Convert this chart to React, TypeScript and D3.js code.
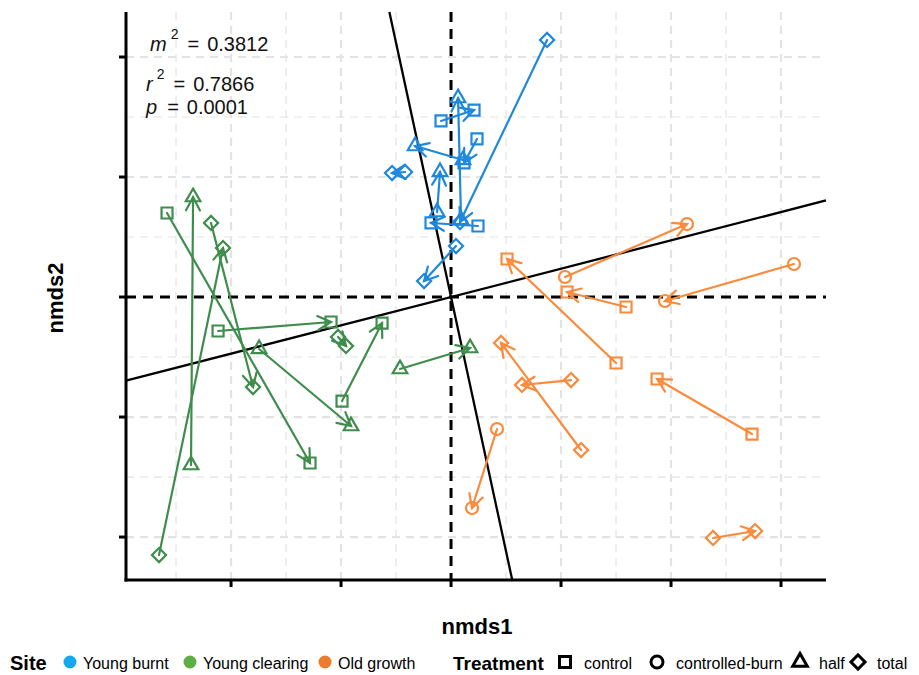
import React, { useEffect, useRef } from 'react';
import * as d3 from 'd3';

// procrustes pairs: from = first ordination, to = rotated/target
type Pair = { treatment: string; from: [number, number]; to: [number, number] };

const youngBurnt: Pair[] = [
  { treatment: 'total', from: [0.0873, 0.2142], to: [0.0082, 0.0625] },
  { treatment: 'total', from: [0.0045, 0.0425], to: [-0.0245, 0.0133] },
  { treatment: 'total', from: [-0.0418, 0.1042], to: [-0.0536, 0.1033] },
  { treatment: 'half', from: [0.0091, 0.0642], to: [0.0064, 0.1658] },
  { treatment: 'half', from: [0.0109, 0.1142], to: [-0.0327, 0.1258] },
  { treatment: 'half', from: [-0.0127, 0.0708], to: [-0.01, 0.1042] },
  { treatment: 'control', from: [-0.0091, 0.1467], to: [0.0209, 0.1558] },
  { treatment: 'control', from: [0.0236, 0.1317], to: [0.0118, 0.1117] },
  { treatment: 'control', from: [0.0245, 0.0592], to: [-0.0182, 0.0617] },
];

const youngClearing: Pair[] = [
  { treatment: 'control', from: [-0.2582, 0.07], to: [-0.1282, -0.1383] },
  { treatment: 'control', from: [-0.2118, -0.0283], to: [-0.1091, -0.0208] },
  { treatment: 'control', from: [-0.0991, -0.0867], to: [-0.0627, -0.0217] },
  { treatment: 'half', from: [-0.2364, -0.14], to: [-0.2345, 0.0833] },
  { treatment: 'half', from: [-0.1745, -0.0433], to: [-0.0909, -0.1075] },
  { treatment: 'half', from: [-0.0464, -0.06], to: [0.0173, -0.0425] },
  { treatment: 'total', from: [-0.2655, -0.215], to: [-0.2073, 0.0408] },
  { treatment: 'total', from: [-0.2182, 0.0617], to: [-0.18, -0.075] },
  { treatment: 'total', from: [-0.1027, -0.0333], to: [-0.0955, -0.0408] },
];

const oldGrowth: Pair[] = [
  { treatment: 'controlled-burn', from: [0.1036, 0.0167], to: [0.2145, 0.0608] },
  { treatment: 'controlled-burn', from: [0.3118, 0.0275], to: [0.1945, -0.0033] },
  { treatment: 'controlled-burn', from: [0.0418, -0.11], to: [0.0191, -0.1758] },
  { treatment: 'control', from: [0.15, -0.055], to: [0.0509, 0.0317] },
  { treatment: 'control', from: [0.1591, -0.0083], to: [0.1055, 0.0042] },
  { treatment: 'control', from: [0.2736, -0.1142], to: [0.1873, -0.0683] },
  { treatment: 'total', from: [0.1182, -0.1275], to: [0.0455, -0.0383] },
  { treatment: 'total', from: [0.1091, -0.0692], to: [0.0645, -0.0733] },
  { treatment: 'total', from: [0.2382, -0.2008], to: [0.2764, -0.195] },
];

const sites = ['Young burnt', 'Young clearing', 'Old growth'];
const siteColors = ['#1f88db', '#3f8d4c', '#fa8a3c'];
const siteLegendColors = ['#14a9ee', '#5dae45', '#ee7a30'];
const treatments = ['control', 'controlled-burn', 'half', 'total'];

const xDomain = [-0.2955, 0.3409];
const yDomain = [-0.2358, 0.2375];
const xTicks = [-0.2, -0.1, 0, 0.1, 0.2, 0.3];
const xMinor = [-0.25, -0.15, -0.05, 0.05, 0.15, 0.25];
const yTicks = [-0.2, -0.1, 0, 0.1, 0.2];
const yMinor = [-0.15, -0.05, 0.05, 0.15];

// rotation axis slope (second axis is perpendicular)
const rotationSlope = 0.236;

const stats = [
  { sym: 'm', value: '0.3812', sup: true },
  { sym: 'r', value: '0.7866', sup: true },
  { sym: 'p', value: '0.0001', sup: false },
];

const FONT = "'Liberation Sans', Arial, sans-serif";

const markerPath = (t: string) => {
  if (t === 'control') return d3.symbol(d3.symbolSquare, 121)();
  if (t === 'controlled-burn') return d3.symbol(d3.symbolCircle, 113)();
  if (t === 'half') return d3.symbol(d3.symbolTriangle, 92)();
  return d3.symbol(d3.symbolSquare, 100)();
};

export default function App() {
  const ref = useRef<SVGSVGElement>(null);

  useEffect(() => {
    const svg = d3.select(ref.current);
    svg.selectAll('*').remove();

    const left = 126, right = 826, top = 12, bottom = 580;
    const x = d3.scaleLinear().domain(xDomain).range([left, right]);
    const y = d3.scaleLinear().domain(yDomain).range([bottom, top]);

    svg.append('rect').attr('width', 919).attr('height', 675).attr('fill', '#fff');

    // grid
    const grid = svg.append('g').attr('stroke', '#e3e3e3').attr('stroke-dasharray', '8,6');
    grid.selectAll('.vmin').data(xMinor).join('line')
      .attr('x1', d => x(d)).attr('x2', d => x(d)).attr('y1', top).attr('y2', bottom)
      .attr('stroke-width', 1.2);
    grid.selectAll('.hmin').data(yMinor).join('line')
      .attr('x1', left).attr('x2', right).attr('y1', d => y(d)).attr('y2', d => y(d))
      .attr('stroke-width', 1.2);
    grid.selectAll('.vmaj').data(xTicks.filter(d => d !== 0)).join('line')
      .attr('x1', d => x(d)).attr('x2', d => x(d)).attr('y1', top).attr('y2', bottom)
      .attr('stroke-width', 2.2);
    grid.selectAll('.hmaj').data(yTicks.filter(d => d !== 0)).join('line')
      .attr('x1', left).attr('x2', right).attr('y1', d => y(d)).attr('y2', d => y(d))
      .attr('stroke-width', 2.2);

    // zero lines
    svg.append('line').attr('x1', left).attr('x2', right).attr('y1', y(0)).attr('y2', y(0))
      .attr('stroke', '#000').attr('stroke-width', 3).attr('stroke-dasharray', '10,7');
    svg.append('line').attr('x1', x(0)).attr('x2', x(0)).attr('y1', top).attr('y2', bottom)
      .attr('stroke', '#000').attr('stroke-width', 3).attr('stroke-dasharray', '10,7');

    // rotation axes
    svg.append('line')
      .attr('x1', x(xDomain[0])).attr('y1', y(rotationSlope * xDomain[0]))
      .attr('x2', x(xDomain[1])).attr('y2', y(rotationSlope * xDomain[1]))
      .attr('stroke', '#000').attr('stroke-width', 2.3);
    svg.append('line')
      .attr('x1', x(-rotationSlope * yDomain[1])).attr('y1', y(yDomain[1]))
      .attr('x2', x(-rotationSlope * yDomain[0])).attr('y2', y(yDomain[0]))
      .attr('stroke', '#000').attr('stroke-width', 2.3);

    // arrows + markers
    [youngBurnt, youngClearing, oldGrowth].forEach((pairs, si) => {
      const col = siteColors[si];
      const g = svg.append('g').attr('stroke', col).attr('fill', 'none')
        .attr('stroke-width', 2.2).attr('stroke-linecap', 'round');
      pairs.forEach(p => {
        const x0 = x(p.from[0]), y0 = y(p.from[1]);
        const x1 = x(p.to[0]), y1 = y(p.to[1]);
        g.append('line').attr('x1', x0).attr('y1', y0).attr('x2', x1).attr('y2', y1);
        const a = Math.atan2(y1 - y0, x1 - x0);
        const len = 15, spread = Math.PI / 6.5;
        const bx = (s: number) => x1 - len * Math.cos(a + s);
        const by = (s: number) => y1 - len * Math.sin(a + s);
        g.append('path')
          .attr('d', `M${bx(spread)},${by(spread)}L${x1},${y1}L${bx(-spread)},${by(-spread)}`);
        [[x0, y0], [x1, y1]].forEach(([cx, cy]) => {
          g.append('path')
            .attr('d', markerPath(p.treatment))
            .attr('transform', `translate(${cx},${cy})${p.treatment === 'total' ? ' rotate(45)' : ''}`);
        });
      });
    });

    // axes
    const axes = svg.append('g').attr('stroke', '#000').attr('stroke-width', 3);
    axes.append('line').attr('x1', left).attr('x2', left).attr('y1', top).attr('y2', bottom + 1.5);
    axes.append('line').attr('x1', left - 1.5).attr('x2', right).attr('y1', bottom).attr('y2', bottom);
    axes.selectAll('.yt').data(yTicks).join('line')
      .attr('x1', left - 7).attr('x2', left).attr('y1', d => y(d)).attr('y2', d => y(d));
    axes.selectAll('.xt').data(xTicks).join('line')
      .attr('x1', d => x(d)).attr('x2', d => x(d)).attr('y1', bottom).attr('y2', bottom + 7);

    // stats text
    const st = svg.append('g').attr('font-family', FONT).attr('font-size', 20).attr('fill', '#111');
    const baselines = [51, 91, 114];
    stats.forEach((s, i) => {
      const t = st.append('text').attr('x', i === 0 ? 150 : 146).attr('y', baselines[i]);
      t.append('tspan').attr('font-style', 'italic').text(s.sym);
      if (s.sup) {
        t.append('tspan').attr('dy', -12).attr('dx', 4).attr('font-size', 14).text('2');
        t.append('tspan').attr('dy', 12).attr('dx', 9).text('=');
      } else {
        t.append('tspan').attr('dx', 10).text('=');
      }
      t.append('tspan').attr('dx', 8).text(s.value);
    });

    // axis titles
    svg.append('text').attr('x', 477).attr('y', 634).attr('text-anchor', 'middle')
      .attr('font-family', FONT).attr('font-weight', 'bold').attr('font-size', 22).text('nmds1');
    svg.append('text').attr('transform', 'translate(63,298) rotate(-90)').attr('text-anchor', 'middle')
      .attr('font-family', FONT).attr('font-weight', 'bold').attr('font-size', 22).text('nmds2');

    // legend
    const lg = svg.append('g').attr('font-family', FONT);
    const ly = 663;
    lg.append('text').attr('x', 10).attr('y', ly + 7).attr('font-weight', 'bold').attr('font-size', 20).text('Site');
    const siteDotX = [70, 190, 325];
    sites.forEach((s, i) => {
      lg.append('circle').attr('cx', siteDotX[i]).attr('cy', ly - 1).attr('r', 6.5).attr('fill', siteLegendColors[i]);
      lg.append('text').attr('x', siteDotX[i] + 13).attr('y', ly + 6).attr('font-size', 16).text(s);
    });
    lg.append('text').attr('x', 453).attr('y', ly + 7).attr('font-weight', 'bold').attr('font-size', 19).text('Treatment');
    const trtX = [565, 657, 800, 858];
    treatments.forEach((t, i) => {
      lg.append('path').attr('d', markerPath(t))
        .attr('transform', `translate(${trtX[i]},${ly - 1})${t === 'total' ? ' rotate(45)' : ''}`)
        .attr('fill', 'none').attr('stroke', '#000').attr('stroke-width', 3);
      lg.append('text').attr('x', trtX[i] + 19).attr('y', ly + 6).attr('font-size', 16).text(t);
    });
  }, []);

  return (
    <svg ref={ref} width={919} height={675} style={{ position: 'absolute', left: 0, top: 0 }}></svg>
  );
}
